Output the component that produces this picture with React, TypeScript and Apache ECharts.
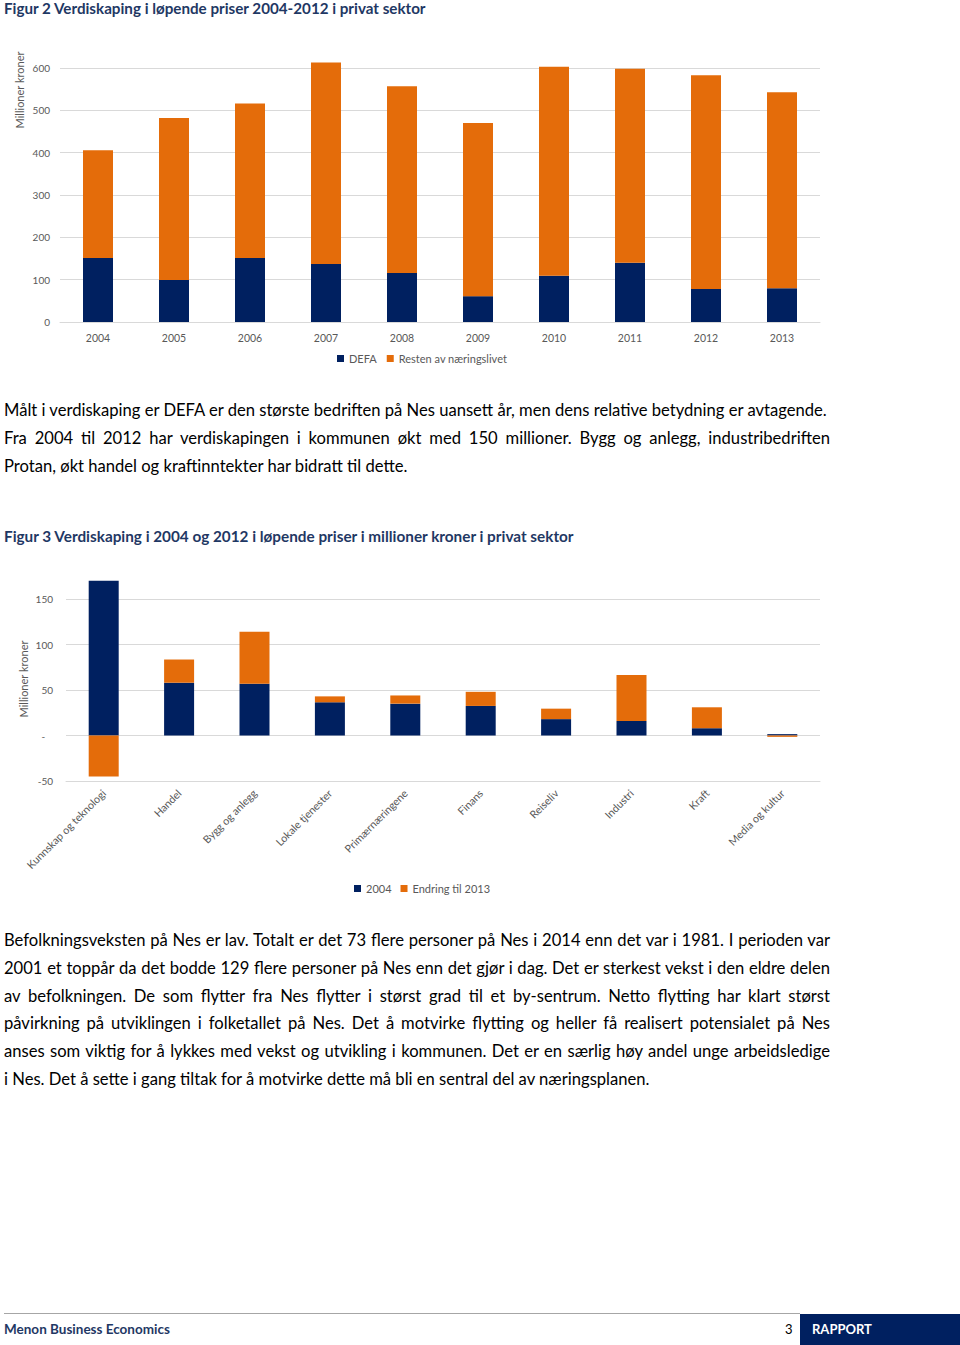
import React, { useEffect, useRef } from "react";
import * as echarts from "echarts";

// ---- Figure 2 data ----
const years = ["2004", "2005", "2006", "2007", "2008", "2009", "2010", "2011", "2012", "2013"];
const defa = [151, 99, 151, 137, 116, 61, 109, 140, 78, 80];
const resten = [255, 383, 365, 476, 441, 409, 494, 458, 505, 463];
const seriesNames1 = ["DEFA", "Resten av næringslivet"];

// ---- Figure 3 data ----
const sectors = [
  "Kunnskap og teknologi",
  "Handel",
  "Bygg og anlegg",
  "Lokale tjenester",
  "Primærnæringene",
  "Finans",
  "Reiseliv",
  "Industri",
  "Kraft",
  "Media og kultur",
];
const v2004 = [170, 58, 57, 36.5, 35, 32.5, 18, 16, 8, 1.5];
const endring = [-45, 25.5, 57, 6.5, 9, 15.5, 11.5, 50.5, 23, -1.5];
const seriesNames2 = ["2004", "Endring til 2013"];

const NAVY = "#002060";
const ORANGE = "#E46C0A";
const GRAY = "#595959";
const GRID = "#D9D9D9";
const FONT = "Lato, 'Noto Sans', sans-serif";

const title1 = "Figur 2 Verdiskaping i løpende priser 2004-2012 i privat sektor";
const title2 = "Figur 3 Verdiskaping i 2004 og 2012 i løpende priser i millioner kroner i privat sektor";

const para1: [string, boolean][] = [
  ["Målt i verdiskaping er DEFA er den største bedriften på Nes uansett år, men dens relative betydning er avtagende.", false],
  ["Fra 2004 til 2012 har verdiskapingen i kommunen økt med 150 millioner. Bygg og anlegg, industribedriften", true],
  ["Protan, økt handel og kraftinntekter har bidratt til dette.", false],
];
const para1Y = [410, 438, 466];

const para2: [string, boolean][] = [
  ["Befolkningsveksten på Nes er lav. Totalt er det 73 flere personer på Nes i 2014 enn det var i 1981. I perioden var", true],
  ["2001 et toppår da det bodde 129 flere personer på Nes enn det gjør i dag. Det er sterkest vekst i den eldre delen", true],
  ["av befolkningen. De som flytter fra Nes flytter i størst grad til et by-sentrum. Netto flytting har klart størst", true],
  ["påvirkning på utviklingen i folketallet på Nes. Det å motvirke flytting og heller få realisert potensialet på Nes", true],
  ["anses som viktig for å lykkes med vekst og utvikling i kommunen. Det er en særlig høy andel unge arbeidsledige", true],
  ["i Nes. Det å sette i gang tiltak for å motvirke dette må bli en sentral del av næringsplanen.", false],
];
const para2Y = [940, 968, 996, 1023, 1051, 1079];

function Chart({ option, style }: { option: any; style: React.CSSProperties }) {
  const ref = useRef<HTMLDivElement>(null);
  useEffect(() => {
    if (!ref.current) return;
    const chart = echarts.init(ref.current, undefined, { renderer: "svg" });
    chart.setOption(option);
    return () => chart.dispose();
  }, []);
  return <div ref={ref} style={style} />;
}

const option1 = {
  animation: false,
  textStyle: { fontFamily: FONT },
  grid: { left: 60, right: 140, top: 28, bottom: 58 },
  legend: {
    left: 337,
    top: 313,
    padding: 0,
    icon: "rect",
    itemWidth: 7,
    itemHeight: 7,
    itemGap: 10,
    textStyle: { color: GRAY, fontSize: 11, fontFamily: FONT },
    data: seriesNames1,
  },
  xAxis: {
    type: "category",
    data: years,
    axisLine: { lineStyle: { color: GRID } },
    axisTick: { show: false },
    axisLabel: { color: GRAY, fontSize: 10.5, margin: 10, fontFamily: FONT },
  },
  yAxis: {
    type: "value",
    min: 0,
    max: 600,
    interval: 100,
    axisLine: { show: false },
    axisTick: { show: false },
    splitLine: { lineStyle: { color: GRID } },
    axisLabel: { color: GRAY, fontSize: 10, margin: 10, fontFamily: FONT },
  },
  graphic: [
    {
      type: "text",
      x: 19,
      y: 50,
      rotation: Math.PI / 2,
      style: {
        text: "Millioner kroner",
        fill: GRAY,
        fontSize: 11,
        fontFamily: FONT,
        align: "center",
        verticalAlign: "middle",
      },
    },
  ],
  series: [
    { name: seriesNames1[0], type: "bar", stack: "a", data: defa, barWidth: 30, clip: false, itemStyle: { color: NAVY } },
    { name: seriesNames1[1], type: "bar", stack: "a", data: resten, barWidth: 30, clip: false, itemStyle: { color: ORANGE } },
  ],
};

const option2 = {
  animation: false,
  textStyle: { fontFamily: FONT },
  grid: { left: 66, right: 140, top: 39, bottom: 129 },
  legend: {
    left: 354,
    top: 323,
    padding: 0,
    icon: "rect",
    itemWidth: 7,
    itemHeight: 7,
    itemGap: 9,
    textStyle: { color: GRAY, fontSize: 11, fontFamily: FONT },
    data: seriesNames2,
  },
  xAxis: {
    type: "category",
    data: sectors,
    axisLine: { onZero: false, lineStyle: { color: GRID } },
    axisTick: { show: false },
    axisLabel: { color: GRAY, fontSize: 10.7, margin: 10, rotate: 45, interval: 0, fontFamily: FONT },
  },
  yAxis: {
    type: "value",
    min: -50,
    max: 150,
    interval: 50,
    axisLine: { show: false },
    axisTick: { show: false },
    splitLine: { lineStyle: { color: GRID } },
    axisLabel: {
      color: GRAY,
      fontSize: 10,
      margin: 13,
      fontFamily: FONT,
      formatter: (v: number) => (v === 0 ? "-   " : String(v)),
    },
  },
  graphic: [
    {
      type: "text",
      x: 23,
      y: 119,
      rotation: Math.PI / 2,
      style: {
        text: "Millioner kroner",
        fill: GRAY,
        fontSize: 11,
        fontFamily: FONT,
        align: "center",
        verticalAlign: "middle",
      },
    },
  ],
  series: [
    { name: seriesNames2[0], type: "bar", stack: "b", data: v2004, barWidth: 30, clip: false, itemStyle: { color: NAVY } },
    { name: seriesNames2[1], type: "bar", stack: "b", data: endring, barWidth: 30, clip: false, itemStyle: { color: ORANGE } },
  ],
};

const TITLE_COLOR = "#1F3864";

function Line({ text, y, justify }: { text: string; y: number; justify: boolean }) {
  return (
    <div
      style={{
        position: "absolute",
        left: 4,
        width: 826,
        top: y - 12,
        height: 24,
        lineHeight: "24px",
        fontSize: 16.6,
        fontFamily: FONT,
        color: "#000",
        whiteSpace: "nowrap",
        textAlign: justify ? "justify" : "left",
        textAlignLast: justify ? "justify" : "left",
      } as React.CSSProperties}
    >
      {text}
    </div>
  );
}

export default function App() {
  return (
    <div
      style={{
        position: "absolute",
        left: 0,
        top: 0,
        width: 960,
        height: 1345,
        background: "#fff",
        overflow: "hidden",
        fontFamily: FONT,
      }}
    >
      <div
        style={{
          position: "absolute",
          left: 4,
          top: 0,
          height: 16,
          lineHeight: "16px",
          fontSize: 15.2,
          fontWeight: 700,
          color: TITLE_COLOR,
          whiteSpace: "nowrap",
        }}
      >
        {title1}
      </div>
      <Chart option={option1} style={{ position: "absolute", left: 0, top: 40, width: 960, height: 340 }} />
      {para1.map(([t, j], i) => (
        <Line key={"p1" + i} text={t} y={para1Y[i]} justify={j} />
      ))}
      <div
        style={{
          position: "absolute",
          left: 4,
          top: 526,
          height: 20,
          lineHeight: "20px",
          fontSize: 15.3,
          fontWeight: 700,
          color: TITLE_COLOR,
          whiteSpace: "nowrap",
        }}
      >
        {title2}
      </div>
      <Chart option={option2} style={{ position: "absolute", left: 0, top: 560, width: 960, height: 350 }} />
      {para2.map(([t, j], i) => (
        <Line key={"p2" + i} text={t} y={para2Y[i]} justify={j} />
      ))}
      <div style={{ position: "absolute", left: 4, top: 1313, width: 796, height: 1, background: "#A6A6A6" }} />
      <div
        style={{
          position: "absolute",
          left: 4,
          top: 1319,
          height: 20,
          lineHeight: "20px",
          fontSize: 13.5,
          fontWeight: 700,
          color: TITLE_COLOR,
          whiteSpace: "nowrap",
        }}
      >
        Menon Business Economics
      </div>
      <div
        style={{
          position: "absolute",
          left: 785,
          top: 1319,
          height: 20,
          lineHeight: "20px",
          fontSize: 13,
          color: "#000",
        }}
      >
        3
      </div>
      <div style={{ position: "absolute", left: 800, top: 1314, width: 160, height: 31, background: NAVY }} />
      <div
        style={{
          position: "absolute",
          left: 812,
          top: 1319,
          height: 20,
          lineHeight: "20px",
          fontSize: 13,
          fontWeight: 700,
          color: "#fff",
        }}
      >
        RAPPORT
      </div>
    </div>
  );
}
